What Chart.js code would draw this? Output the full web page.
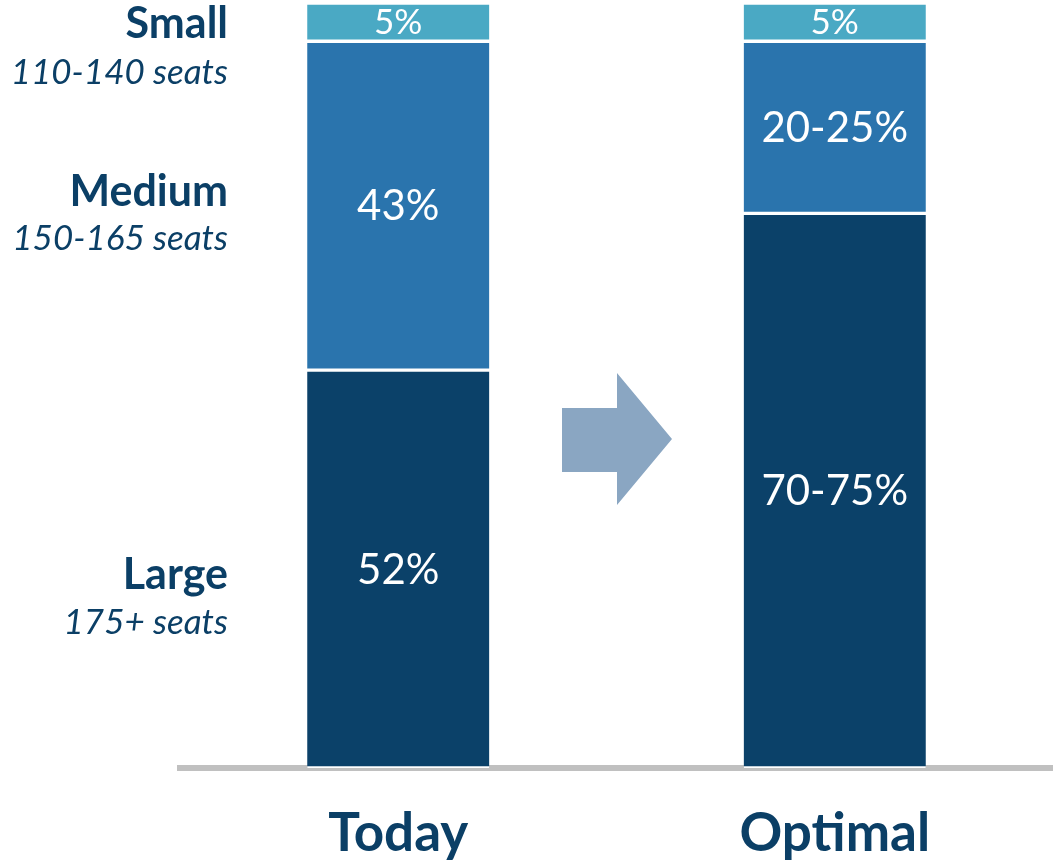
<!DOCTYPE html>
<html>
<head>
<meta charset="utf-8">
<script src="https://cdn.jsdelivr.net/npm/chart.js@4.4.0/dist/chart.umd.min.js"></script>
<style>
  html, body { margin: 0; padding: 0; background: #fff; }
  #wrap { width: 1053px; height: 865px; }
</style>
</head>
<body>
<div id="wrap"><canvas id="fleetChart"></canvas></div>
<script>
// categories and series (stack order: bottom to top)
const categories = ['Today', 'Optimal'];
const largeShare = [52, 72.5];
const mediumShare = [43, 22.5];
const smallShare = [5, 5];
const largeLabels = ['52%', '70-75%'];
const mediumLabels = ['43%', '20-25%'];
const smallLabels = ['5%', '5%'];
const sizeNames = ['Large', 'Medium', 'Small'];
const seatRanges = ['175+ seats', '150-165 seats', '110-140 seats'];

const navy = '#0b3f66';
const font = 'Lato, "Open Sans", sans-serif';

// white % labels inside each segment
const segmentLabels = {
    id: 'segmentLabels',
    afterDatasetsDraw(chart) {
        const ctx = chart.ctx;
        const texts = [largeLabels, mediumLabels, smallLabels];
        ctx.save();
        ctx.fillStyle = '#fff';
        ctx.textAlign = 'center';
        ctx.textBaseline = 'middle';
        chart.data.datasets.forEach((ds, i) => {
            const meta = chart.getDatasetMeta(i);
            meta.data.forEach((bar, j) => {
                const size = i === 2 ? 35 : 42;
                ctx.font = size + 'px ' + font;
                ctx.fillText(texts[i][j], bar.x, (bar.y + bar.base) / 2 + 1);
            });
        });
        ctx.restore();
    }
};

// size names on the left + arrow between the bars
const annotations = {
    id: 'annotations',
    afterDraw(chart) {
        const ctx = chart.ctx;
        ctx.save();
        ctx.fillStyle = navy;
        ctx.textAlign = 'right';
        ctx.textBaseline = 'alphabetic';
        const nameY = [589, 206, 38];
        const rangeY = [634, 250, 84];
        for (let i = 0; i < 3; i++) {
            ctx.font = 'bold 43px ' + font;
            ctx.fillText(sizeNames[i], 228, nameY[i]);
            ctx.font = 'italic 35px ' + font;
            ctx.fillText(seatRanges[i], 228, rangeY[i]);
        }
        // arrow
        ctx.fillStyle = '#8aa6c2';
        ctx.beginPath();
        ctx.moveTo(562, 408);
        ctx.lineTo(617, 408);
        ctx.lineTo(617, 373);
        ctx.lineTo(672, 439);
        ctx.lineTo(617, 505);
        ctx.lineTo(617, 472);
        ctx.lineTo(562, 472);
        ctx.closePath();
        ctx.fill();
        ctx.restore();
    }
};

const segBorder = { top: 2, bottom: 2, left: 0, right: 0 };

new Chart(document.getElementById('fleetChart'), {
    type: 'bar',
    data: {
        labels: categories,
        datasets: [
            { label: 'Large', data: largeShare, backgroundColor: '#0b4169', borderColor: '#fff', borderWidth: segBorder, borderSkipped: false },
            { label: 'Medium', data: mediumShare, backgroundColor: '#2a74ad', borderColor: '#fff', borderWidth: segBorder, borderSkipped: false },
            { label: 'Small', data: smallShare, backgroundColor: '#4aa9c4', borderColor: '#fff', borderWidth: segBorder, borderSkipped: false }
        ]
    },
    options: {
        responsive: true,
        maintainAspectRatio: false,
        animation: false,
        layout: { padding: { left: 180, right: 0, top: 3, bottom: 0 } },
        plugins: {
            legend: { display: false },
            tooltip: { enabled: false }
        },
        datasets: { bar: { barThickness: 182 } },
        scales: {
            x: {
                stacked: true,
                grid: { display: false },
                border: { display: true, color: '#c0c0c0', width: 6 },
                afterFit(scale) { scale.height = 97; },
                ticks: {
                    color: navy,
                    padding: 26,
                    font: { family: font, size: 53, weight: 'bold' }
                }
            },
            y: {
                stacked: true,
                display: false,
                min: 0,
                max: 100
            }
        }
    },
    plugins: [segmentLabels, annotations]
});
</script>
</body>
</html>
